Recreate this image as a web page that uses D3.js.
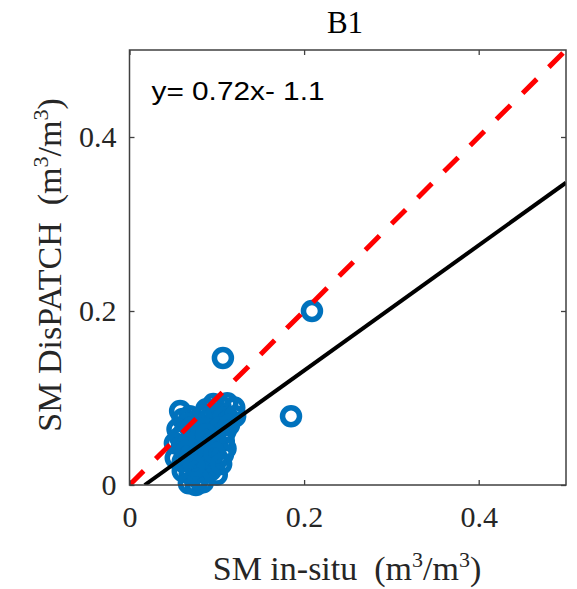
<!DOCTYPE html>
<html>
<head>
<meta charset="utf-8">
<script src="https://cdn.jsdelivr.net/npm/d3@7"></script>
<style>
    body { margin: 0; background: #fff; }
    .axis text { font-family: "Liberation Serif", "Times New Roman", serif; font-size: 30px; fill: #262626; }
    .axis line { stroke: #404040; stroke-width: 1.3; }
    .axis path { display: none; }
    .axis-title { font-family: "Liberation Serif", "Times New Roman", serif; font-size: 34px; fill: #262626; }
</style>
</head>
<body>
<div id="chart"></div>
<script>
// in-situ soil moisture (x) vs DisPATCH soil moisture (y), m3/m3
const insitu = [
    0.058, 0.096, 0.104, 0.112, 0.120, 0.088,
    0.061, 0.069, 0.077, 0.085, 0.092, 0.100, 0.108, 0.115, 0.121, 0.066,
    0.055, 0.063, 0.071, 0.079, 0.087, 0.095, 0.103, 0.110, 0.114, 0.058,
    0.052, 0.060, 0.068, 0.076, 0.084, 0.092, 0.100, 0.108, 0.110, 0.098,
    0.053, 0.061, 0.069, 0.077, 0.085, 0.093, 0.101, 0.107, 0.072,
    0.061, 0.069, 0.077, 0.085, 0.093, 0.100, 0.090,
    0.068, 0.076, 0.084, 0.079,
    0.081, 0.065, 0.097, 0.088, 0.074, 0.105,
    0.107, 0.185, 0.209
];
const dispatch = [
    0.085, 0.093, 0.091, 0.094, 0.089, 0.087,
    0.076, 0.079, 0.074, 0.080, 0.077, 0.082, 0.078, 0.075, 0.079, 0.070,
    0.064, 0.061, 0.066, 0.062, 0.065, 0.060, 0.066, 0.062, 0.069, 0.055,
    0.048, 0.044, 0.050, 0.045, 0.049, 0.043, 0.047, 0.051, 0.042, 0.054,
    0.031, 0.027, 0.033, 0.028, 0.032, 0.026, 0.030, 0.035, 0.038,
    0.016, 0.013, 0.018, 0.014, 0.017, 0.012, 0.021,
    0.002, 0.000, 0.003, 0.007,
    0.056, 0.039, 0.037, 0.058, 0.022, 0.024,
    0.146, 0.079, 0.200
];

const xTicks = [0, 0.2, 0.4];
const yTicks = [0, 0.2, 0.4];
const axisLimits = [0, 0.5];

// linear fit shown in the panel
const fitSlope = 0.72;
const fitIntercept = -0.0125;
const fitLabel = 'y= 0.72x- 1.1';
const panelTitle = 'B1';

class ScatterPlot {
    constructor(_config, _data) {
        this.config = {
            parentElement: _config.parentElement,
            containerWidth: _config.containerWidth || 577,
            containerHeight: _config.containerHeight || 589,
            margin: _config.margin || {top: 50, right: 11, bottom: 104, left: 129.5}
        };
        this.data = _data;
        this.initVis();
    }

    initVis() {
        let vis = this;

        vis.width = vis.config.containerWidth - vis.config.margin.left - vis.config.margin.right;
        vis.height = vis.config.containerHeight - vis.config.margin.top - vis.config.margin.bottom;

        vis.svg = d3.select(vis.config.parentElement).append('svg')
            .attr('width', vis.config.containerWidth)
            .attr('height', vis.config.containerHeight);

        vis.chart = vis.svg.append('g')
            .attr('transform', `translate(${vis.config.margin.left},${vis.config.margin.top})`);

        vis.xScale = d3.scaleLinear().domain(axisLimits).range([0, vis.width]);
        vis.yScale = d3.scaleLinear().domain(axisLimits).range([vis.height, 0]);

        vis.chart.append('clipPath').attr('id', 'plot-clip')
            .append('rect')
            .attr('width', vis.width)
            .attr('height', vis.height);
    }

    renderVis() {
        let vis = this;

        // scatter markers (not clipped, like the original)
        vis.chart.append('g')
            .selectAll('circle')
            .data(vis.data)
            .join('circle')
            .attr('cx', d => vis.xScale(d.x))
            .attr('cy', d => vis.yScale(d.y))
            .attr('r', 8.5)
            .attr('fill', 'none')
            .attr('stroke', '#0072BD')
            .attr('stroke-width', 5.5);

        const lines = vis.chart.append('g').attr('clip-path', 'url(#plot-clip)');
        const line = d3.line().x(d => vis.xScale(d[0])).y(d => vis.yScale(d[1]));

        // 1:1 line
        lines.append('path')
            .attr('d', line([[axisLimits[0], axisLimits[0]], [axisLimits[1], axisLimits[1]]]))
            .attr('fill', 'none')
            .attr('stroke', '#ff0000')
            .attr('stroke-width', 5)
            .attr('stroke-dasharray', '20,17');

        // fitted line
        const x0 = -fitIntercept / fitSlope;
        lines.append('path')
            .attr('d', line([[x0, 0], [axisLimits[1], fitSlope * axisLimits[1] + fitIntercept]]))
            .attr('fill', 'none')
            .attr('stroke', '#000')
            .attr('stroke-width', 4);

        // box
        vis.chart.append('rect')
            .attr('width', vis.width)
            .attr('height', vis.height)
            .attr('fill', 'none')
            .attr('stroke', '#404040')
            .attr('stroke-width', 1.5);

        vis.chart.append('g').attr('class', 'axis x-axis')
            .attr('transform', `translate(0,${vis.height})`)
            .call(d3.axisBottom(vis.xScale).tickValues(xTicks).tickSize(-5).tickPadding(21).tickFormat(d3.format('')));
        vis.chart.append('g').attr('class', 'axis')
            .call(d3.axisTop(vis.xScale).tickValues(xTicks).tickSize(-5).tickFormat(''));
        vis.chart.append('g').attr('class', 'axis y-axis')
            .call(d3.axisLeft(vis.yScale).tickValues(yTicks).tickSize(-5).tickPadding(13).tickFormat(d3.format('')));
        vis.chart.append('g').attr('class', 'axis')
            .attr('transform', `translate(${vis.width},0)`)
            .call(d3.axisRight(vis.yScale).tickValues(yTicks).tickSize(-5).tickFormat(''));

        // equation
        vis.chart.append('text')
            .attr('x', 22)
            .attr('y', 50)
            .attr('textLength', 173)
            .attr('lengthAdjust', 'spacingAndGlyphs')
            .style('font-family', '"Liberation Sans", Arial, sans-serif')
            .style('font-size', '25px')
            .style('fill', '#000')
            .text(fitLabel);

        // title
        vis.svg.append('text')
            .attr('x', 345)
            .attr('y', 33)
            .attr('text-anchor', 'middle')
            .style('font-family', '"Liberation Serif", "Times New Roman", serif')
            .style('font-size', '31px')
            .style('fill', '#000')
            .text(panelTitle);

        // axis titles with superscripts
        const addUnitTitle = (sel, prefix) => {
            sel.append('tspan').text(prefix + '\u00a0\u00a0(m');
            sel.append('tspan').attr('dy', -13).style('font-size', '22px').text('3');
            sel.append('tspan').attr('dy', 13).text('/m');
            sel.append('tspan').attr('dy', -13).style('font-size', '22px').text('3');
            sel.append('tspan').attr('dy', 13).text(')');
        };

        const xTitle = vis.svg.append('text')
            .attr('class', 'axis-title')
            .attr('x', 347)
            .attr('y', 580)
            .attr('text-anchor', 'middle');
        addUnitTitle(xTitle, 'SM in-situ');

        const yTitle = vis.svg.append('text')
            .attr('class', 'axis-title')
            .attr('transform', 'translate(61,265) rotate(-90)')
            .attr('text-anchor', 'middle');
        addUnitTitle(yTitle, 'SM DisPATCH');
    }
}

const points = insitu.map((d, i) => ({x: d, y: dispatch[i]}));
const plot = new ScatterPlot({parentElement: '#chart'}, points);
plot.renderVis();
</script>
</body>
</html>
